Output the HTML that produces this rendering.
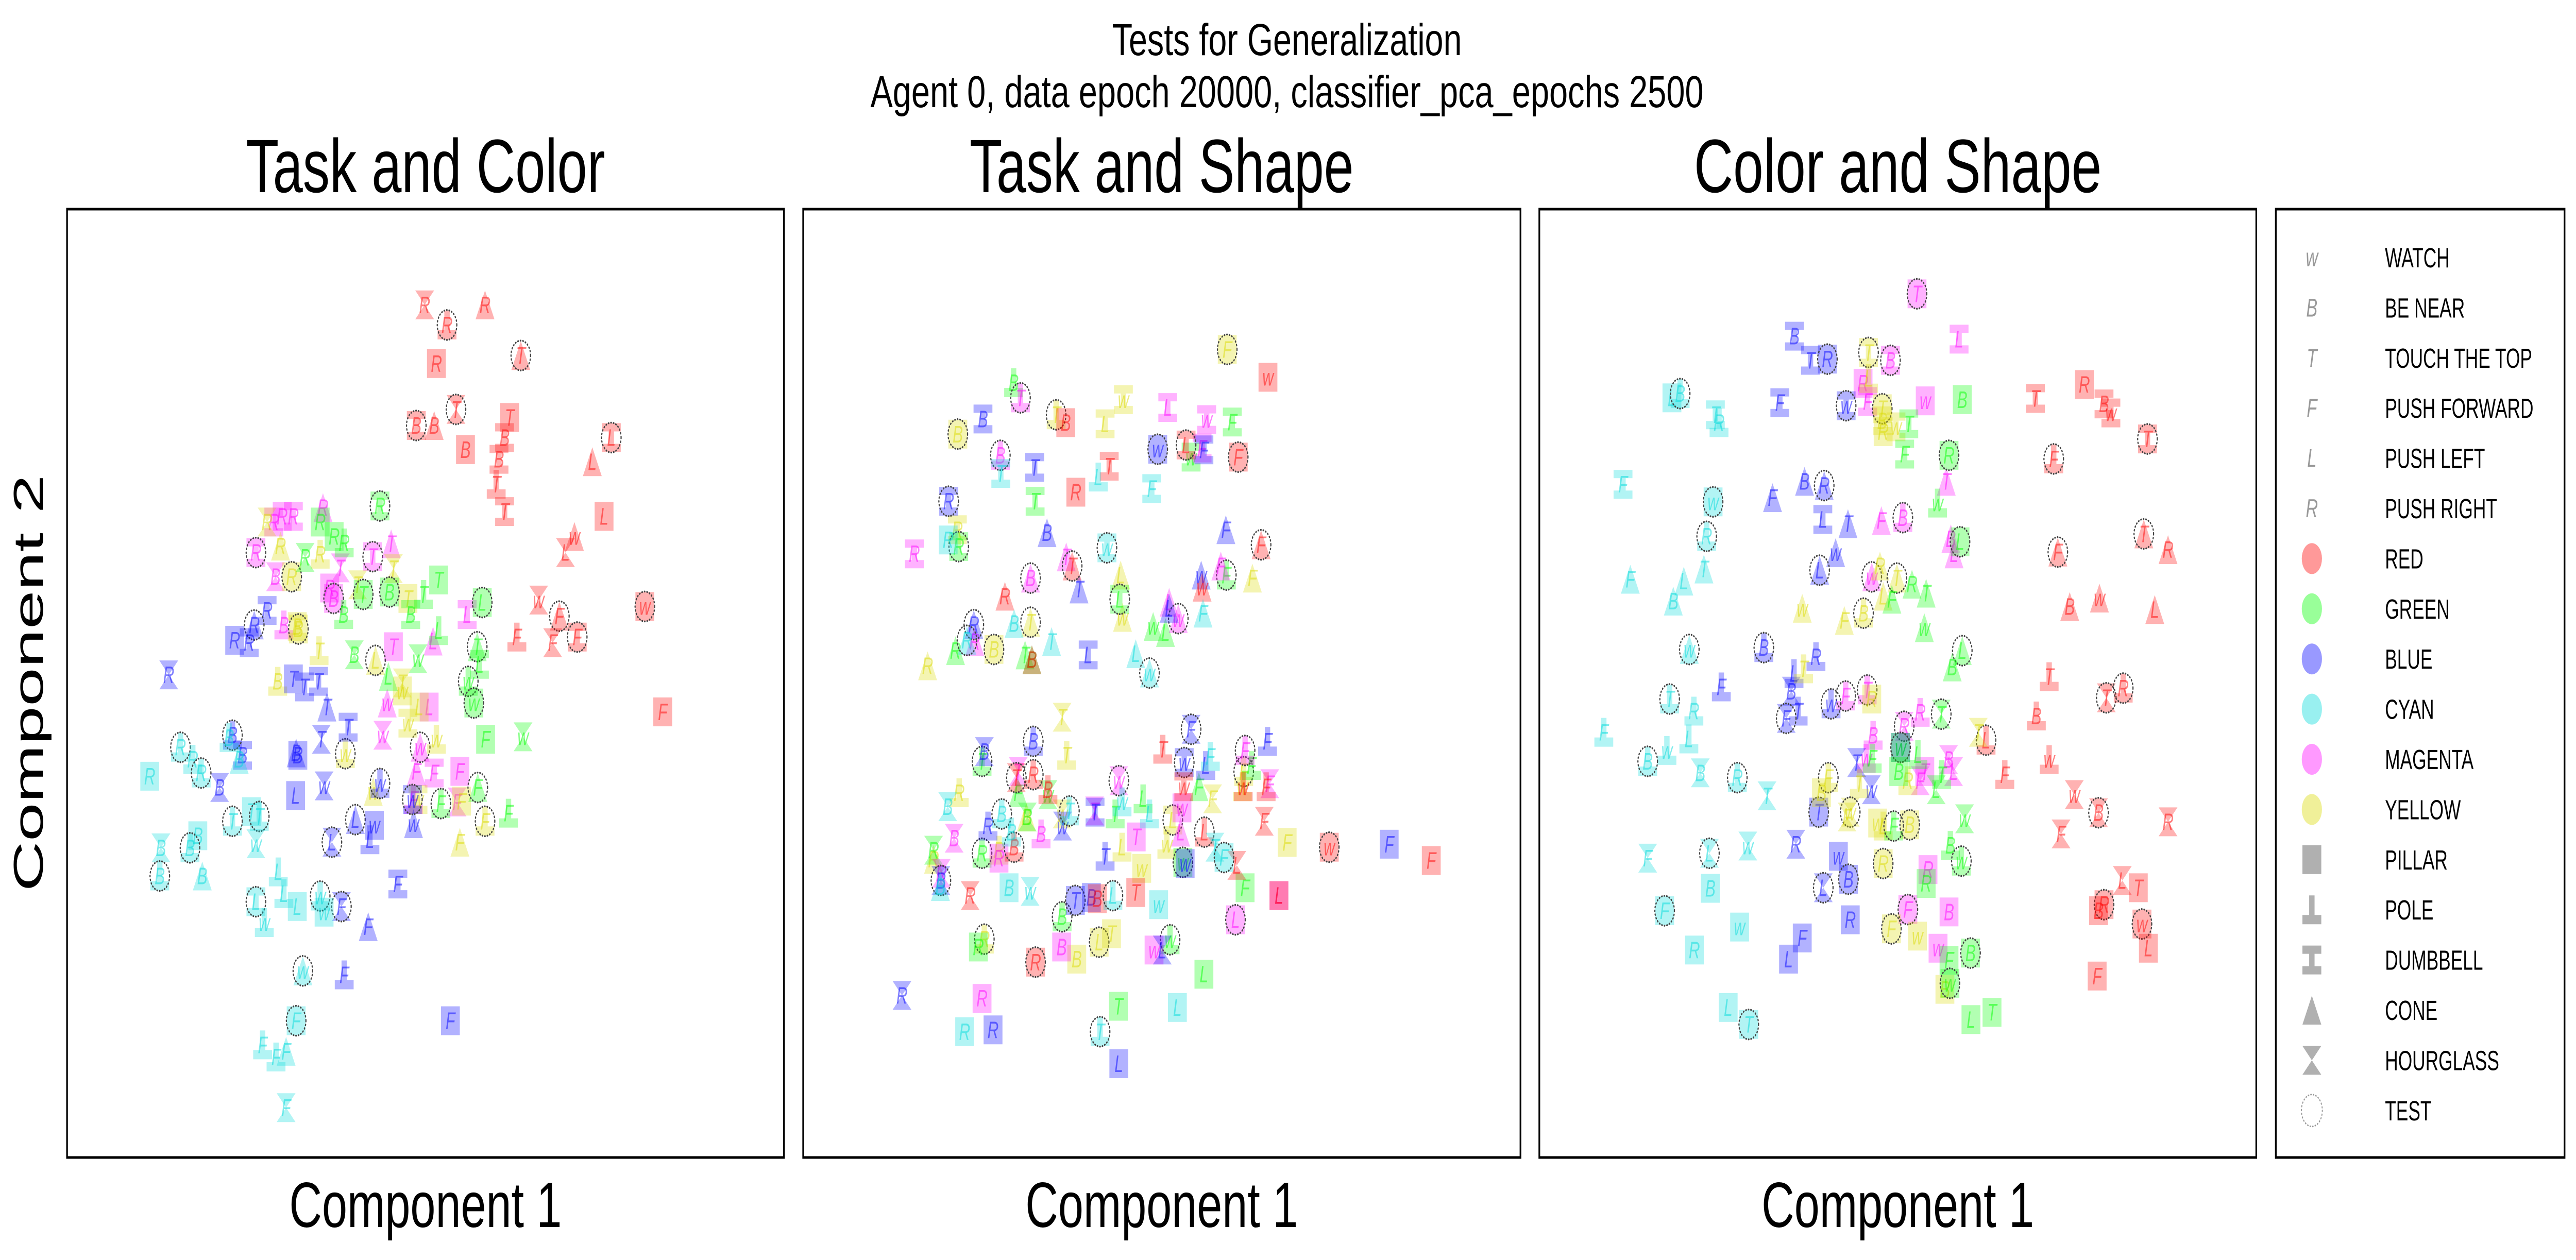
<!DOCTYPE html>
<html><head><meta charset="utf-8"><title>Tests for Generalization</title>
<style>
html,body{margin:0;padding:0;background:#fff;width:100%;height:100%;overflow:hidden;}
svg{display:block;width:100vw;height:100vh;}
text{font-family:"Liberation Sans","DejaVu Sans",sans-serif;}
</style></head>
<body>
<svg id="fig" viewBox="0 0 7646 2446" preserveAspectRatio="none" xmlns="http://www.w3.org/2000/svg">
<rect x="0" y="0" width="7646" height="2446" fill="#fff"/>
<text x="3820" y="107" font-size="87" text-anchor="middle" textLength="1038" lengthAdjust="spacingAndGlyphs">Tests for Generalization</text>
<text x="3820" y="208" font-size="87" text-anchor="middle" textLength="2473" lengthAdjust="spacingAndGlyphs">Agent 0, data epoch 20000, classifier_pca_epochs 2500</text>
<text x="1263" y="373" font-size="147" text-anchor="middle" textLength="1066" lengthAdjust="spacingAndGlyphs">Task and Color</text>
<text x="3448" y="373" font-size="147" text-anchor="middle" textLength="1140" lengthAdjust="spacingAndGlyphs">Task and Shape</text>
<text x="5633" y="373" font-size="147" text-anchor="middle" textLength="1210" lengthAdjust="spacingAndGlyphs">Color and Shape</text>
<text x="1263" y="2382" font-size="124" text-anchor="middle" textLength="809" lengthAdjust="spacingAndGlyphs">Component 1</text>
<text x="3448" y="2382" font-size="124" text-anchor="middle" textLength="809" lengthAdjust="spacingAndGlyphs">Component 1</text>
<text x="5633" y="2382" font-size="124" text-anchor="middle" textLength="809" lengthAdjust="spacingAndGlyphs">Component 1</text>
<text x="0" y="0" font-size="124" text-anchor="middle" textLength="809" lengthAdjust="spacingAndGlyphs" transform="translate(127,1326) rotate(-90)">Component 2</text>
<g id="panels"></g>
<g id="legend"></g>
</svg>
<script>
// ---------- data (in pixel-estimate data units) ----------
const p1RedX=[760,800,868,781,932,745,777,816,833,912,903,893,888,903,1094,1060,1081,1028,1012,964,1001,1033,989,925,1154,1186];
const p1RedY=[380,405,380,453,443,530,530,510,560,520,545,572,603,637,545,575,643,668,688,747,767,793,800,793,755,886];
const p1RedShape="H O C P C D C H P P D D O D D C P C H H C D H O P P";
const p1RedTask="R R R R T B B T B T B B T T L L L W L W F F F F W F";
const p1RedTest="0 1 0 0 1 1 0 1 0 0 0 0 0 0 1 0 0 0 0 0 1 1 0 0 1 0";
const p1MagX=[505,525,490,578,458,493,609,667,700,590,597,508,836,775,704,693,685,752,768,745,777,823,818,740];
const p1MagY=[643,643,650,632,688,718,707,693,677,732,745,778,765,798,805,875,915,930,880,960,962,960,998,995];
const p1MagShape="P D D C D H H D C P P O D C P C H C P C D P H O";
const p1MagTask="R R R R R B T T T R B B L L T W W W L F F F F F";
const p1MagTest="0 0 0 0 1 0 0 1 0 0 1 0 0 0 0 0 0 1 0 0 0 0 0 0";
const p1YelX=[478,502,522,573,640,532,534,571,497,672,704,730,720,730,781,750,618,668,748,826,868,823,720];
const p1YelY=[650,680,718,690,728,780,783,810,848,822,708,745,860,900,920,880,938,985,995,997,1022,1048,850];
const p1YelShape="H C P O H D P O O C H P P D O P O C D P O C H";
const p1YelTask="R R R R T B B T B L T T W W W L W W W F F F T";
const p1YelTest="0 0 1 0 0 0 1 0 0 1 0 0 0 0 0 0 1 0 0 0 1 0 0";
const p1GrnX=[680,573,598,616,546,650,697,785,758,735,615,634,785,863,854,858,838,848,695,869,936,855,789,910,748];
const p1GrnY=[630,650,668,676,694,740,737,722,740,765,765,815,785,750,805,827,848,875,842,920,917,980,1000,1012,820];
const p1GrnShape="D P P O H P P P O D O H O P C D O P C P H C O O H";
const p1GrnTask="R R R R R T B T T B B B L L T L W W L F W F F F W";
const p1GrnTest="1 0 0 0 0 1 1 0 0 0 0 0 0 1 1 0 1 1 0 0 0 1 1 0 0";
const p1BluX=[478,455,420,446,302,525,545,570,585,623,575,533,530,434,416,393,580,529,680,636,670,662,594,740,738,712,611,659,616,806];
const p1BluY=[760,778,797,800,840,845,855,848,880,905,920,940,937,940,915,980,978,990,975,1020,1027,1045,1048,1025,995,1100,1128,1153,1213,1270];
const p1BluShape="D C P D H P D D C D H P C D O H H P O C P O H C D D H C O P";
const p1BluTask="R R R R R T T T T T T B B B B B W L W L W L L W W F F F F F";
const p1BluTest="0 1 0 0 0 0 0 0 0 0 0 0 0 0 1 0 0 0 1 1 0 0 1 0 1 0 1 0 0 0";
const p1CyaX=[268,323,345,360,410,428,450,464,416,458,354,340,288,286,362,498,508,458,473,532,573,580,542,530,470,494,512,512];
const p1CyaY=[966,930,945,962,918,945,1010,1016,1022,1050,1040,1055,1055,1090,1090,1085,1112,1122,1148,1128,1115,1135,1208,1270,1300,1315,1308,1378];
const p1CyaShape="P O O O O C P O O H P O H O C O O D O P O P C P O O C H";
const p1CyaTask="R R R R B B T T T W B B B B B L L L W L W W W F F F F F";
const p1CyaTest="0 1 0 1 0 0 0 1 1 0 0 1 0 1 0 0 0 1 0 0 1 0 1 1 0 0 0 0";

const p2YelX=[927,700,660,553,338,337,982,694,698,497,417,272,566,576,341,566,488,428,697,740,795,808,895,1058,963,960,598,396,647,674,285];
const p2YelY=[232,315,355,340,372,530,610,605,675,683,728,755,840,903,965,1000,1005,1060,1055,1090,1050,1010,975,1047,930,955,1240,1207,1212,1198,1075];
const p2YelShape="P D D O P D C C C C P C H O O H C O O P O D H P O O P O P P C";
const p2YelTask="F W L T B R F L W T B R T T R W B R L W W L F F F W B R L T R";
const p2YelTest="1 0 0 1 1 0 0 0 0 1 1 0 0 0 0 0 0 0 0 0 0 1 0 0 1 0 0 1 1 0 0";
const p2GrnX=[460,938,848,507,340,925,692,765,792,333,485,500,391,470,535,490,285,391,682,743,865,980,566,802,830,966,383,876,689];
const p2GrnY=[287,352,410,483,558,605,645,690,700,730,737,745,913,965,968,1005,1060,1065,1000,975,955,920,1170,1208,1080,1122,1220,1265,1318];
const p2GrnShape="O D D D D O D C C C C C O C H H H O O O C O O O P P P P P";
const p2GrnTask="B F W T R F L W L R T B T F W B R R T L F F B W W F R L T";
const p2GrnTest="0 0 0 0 1 1 1 0 0 0 0 0 1 0 0 0 0 1 0 0 0 0 1 1 1 0 0 0 0";
const p2MagX=[475,797,882,872,431,243,575,497,913,800,820,375,470,690,966,1020,637,330,520,428,728,825,302,945,1040,565,767,391,828];
const p2MagY=[312,328,348,395,407,570,575,610,590,650,677,715,930,945,895,950,995,1040,1033,1073,1038,1030,1098,1175,1135,1220,1225,1305,990];
const p2MagShape="O D D D O D C C C C C C H H O H H H O P P C H P P P P P P";
const p2MagTask="T L W F B R T B F L W R T W F F T B B R T L R L L B W R W";
const p2MagTest="1 0 0 0 1 0 0 1 0 0 1 0 0 1 1 0 0 0 0 0 0 0 0 1 0 0 0 0 0";
const p2BluX=[393,506,318,533,924,603,870,373,623,775,876,800,848,1015,396,503,833,880,404,567,638,660,835,595,630,785,216,415,690,1281,301];
const p2BluY=[347,427,483,535,530,628,605,687,737,397,398,660,860,880,897,880,915,920,1020,1020,997,1070,1082,1143,1138,1225,1300,1357,1413,1050,1110];
const p2BluShape="D D D C C C C C D P D C H O H O D O O H D O P P P H H P P P H";
const p2BluTask="B T R B F T W R L W F L F F B B W L R W T T W T B L R R L F B";
const p2BluTest="0 0 1 0 0 0 0 1 0 1 0 0 1 0 0 1 1 0 0 0 0 0 0 1 0 0 0 0 0 0 1";
const p2RedX=[1016,574,837,951,669,596,1001,588,872,441,500,786,466,503,535,832,962,1008,1012,461,877,948,1150,1373,365,727,643,508,1040];
const p2RedY=[278,353,390,410,425,468,555,590,625,640,745,893,940,935,960,955,955,1012,955,1055,1030,1085,1055,1077,1135,1130,1140,1245,1135];
const p2RedShape="P P D P D P C C C C C O H O O D O H O O O H P P H P P P P";
const p2RedTask="W B L F T R F T W R B T T R B W W F F B L L W F R T B R L";
const p2RedTest="0 0 1 1 0 0 1 1 0 0 0 0 1 1 0 0 0 0 0 1 1 0 1 0 0 0 0 1 0";
const p2CyaX=[432,645,762,317,664,461,543,358,727,757,874,890,316,434,582,697,757,900,920,450,496,677,777,818,353,649,300,455];
const p2CyaY=[437,443,462,547,560,685,715,713,735,767,668,905,988,1000,995,980,1000,1055,1072,1122,1128,1135,1150,1320,1360,1360,1120,1030];
const p2CyaShape="D O D P D C C C C C C O H O O O O H P P H O P P P O C O";
const p2CyaTask="T L F R W B T R L W F F B B T W L T F B W L W L R T B B";
const p2CyaTest="0 0 0 0 1 0 0 1 0 1 0 0 0 1 1 0 0 0 1 0 0 1 0 0 0 1 0 0";

const p3RedX=[1085,1192,1235,1250,1330,1125,1322,1134,1375,1160,1225,1346,1115,1240,1277,1087,977,1115,1018,1170,1223,1375,1141,1275,1310,1235,1223,1318,1332,1220];
const p3RedY=[313,290,322,337,380,413,537,567,563,657,643,662,773,808,792,838,878,910,935,968,998,1013,1033,1110,1122,1150,1160,1182,1222,1268];
const p3RedShape="D P D D D O C C C C C C O H O O O O O H H H H H P P P P P P";
const p3RedTask="T R B W T F T F R B W L T T R B L W F W B R F L T R B W L F";
const p3RedTest="0 0 0 0 1 1 1 1 0 0 0 0 0 1 1 0 1 0 0 0 1 0 0 0 0 1 0 1 0 0";
const p3MagX=[826,918,768,708,718,844,890,748,795,900,907,727,670,717,730,798,833,833,895,906,843,850,806,896,872,715];
const p3MagY=[140,215,250,288,318,317,450,515,510,545,570,608,805,795,870,855,832,945,910,930,930,1092,1158,1162,1222,908];
const p3MagShape="P D D P D P C C O C C C O O O H O H H H P P P P P O";
const p3MagTask="T L B R F W T F B B L W F T B R R F B L T R F B W W";
const p3MagTest="1 0 1 0 0 0 0 0 1 0 0 1 1 1 0 1 0 0 0 0 0 0 1 0 0 0";
const p3BluX=[558,593,630,526,671,580,623,510,620,675,648,613,491,605,398,557,551,566,540,638,694,726,611,561,654,676,621,680,575,545,790];
const p3BluY=[210,250,248,320,325,450,457,477,513,520,568,597,725,740,790,768,797,830,842,818,915,960,997,1050,1070,1108,1122,1175,1205,1240,890];
const p3BluShape="D D P D D C C C D C C C O O O O H O H O H H P H P P H P P P P";
const p3BluTask="B T R F W B R F L T W L B R F L B T F W T W T R W B L R F L W";
const p3BluTest="0 0 1 0 1 0 1 0 0 0 0 1 1 0 0 0 0 0 1 1 0 0 1 0 0 1 1 0 0 0 1";
const p3CyaX=[290,308,385,393,183,380,366,360,199,316,293,328,285,338,141,327,279,237,352,433,498,237,372,456,374,274,438,339,413,458];
const p3CyaY=[312,305,340,353,455,484,541,595,612,615,648,728,810,830,865,876,895,913,932,940,970,1073,1065,1053,1123,1160,1187,1225,1320,1348];
const p3CyaShape="P O D O D P O C C C C C O O O O O O H O H H H H P P P P P P";
const p3CyaTask="L B T R F W R T F L B W T R F L W B B R T F L W B F W R L T";
const p3CyaTest="0 1 0 0 0 1 1 0 0 0 0 1 1 0 0 0 0 1 0 1 0 0 1 0 0 1 0 0 0 1";
const p3YelX=[720,720,750,750,780,752,745,782,752,575,667,709,578,727,960,632,700,617,680,673,740,752,810,806,752,770,827,887];
const p3YelY=[237,280,330,350,360,368,590,610,640,660,680,668,760,810,865,940,950,965,997,1005,1015,1020,1018,945,1082,1190,1202,1290];
const p3YelShape="D O P D D P C C C C C O O P H O O P H H P O P O P P P P";
const p3YelTask="T L T B W R R T L W F B T R T F T B W F W L B R R F W B";
const p3YelTest="1 0 1 0 0 0 0 1 0 0 0 1 0 0 0 1 0 0 1 0 0 0 1 0 1 1 0 0";
const p3GrnX=[925,808,799,896,871,920,771,815,846,842,925,903,879,790,828,728,786,880,868,930,775,899,923,846,943,896,898,944,990];
const p3GrnY=[315,355,405,407,486,550,645,620,635,692,730,757,835,890,902,908,930,935,960,1008,1020,1052,1078,1115,1230,1242,1280,1340,1328];
const p3GrnShape="P D D P O P C C C C C C H P O O P O H H O O O P P P P P P";
const p3GrnTask="B T F R W L F R T W L B T W L F B T L W F B W R B F W L T";
const p3GrnTest="0 0 0 1 0 1 0 0 0 0 1 0 1 1 0 0 0 0 0 0 1 0 1 0 1 0 1 0 0";

const legendTasks=["WATCH","BE NEAR","TOUCH THE TOP","PUSH FORWARD","PUSH LEFT","PUSH RIGHT"];
const legendTaskGlyphs=["w","B","T","F","L","R"];
const legendColors=["RED","GREEN","BLUE","CYAN","MAGENTA","YELLOW"];
const legendShapes=["PILLAR","POLE","DUMBBELL","CONE","HOURGLASS"];

// ---------- rendering ----------
const NS="http://www.w3.org/2000/svg";
const COL={r:"#ff0000",g:"#00ff00",b:"#0000ff",c:"#00d9d9",m:"#ff00ff",y:"#d9d900"};
const PANELS=[
  {left:199,top:406,w:2128,h:1841,dx:[120,1403],dy:[261,1440],name:"task-and-color"},
  {left:2384,top:406,w:2129,h:1841,dx:[0,1568],dy:[0,1568],name:"task-and-shape"},
  {left:4569,top:406,w:2128,h:1841,dx:[0,1568],dy:[0,1568],name:"color-and-shape"}
];
function sx(p,v){return p.left+(v-p.dx[0])/(p.dx[1]-p.dx[0])*p.w;}
function sy(p,v){return p.top+(v-p.dy[0])/(p.dy[1]-p.dy[0])*p.h;}
function mk(tag,attrs,parent){const e=document.createElementNS(NS,tag);for(const k in attrs)e.setAttribute(k,attrs[k]);if(parent)parent.appendChild(e);return e;}
const H=28;
function shapeEl(code,cx,cy,fill,op,g){
  let e;
  if(code==="P"){e=mk("rect",{x:cx-H,y:cy-H,width:2*H,height:2*H},g);}
  else if(code==="O"){e=mk("path",{d:`M${cx-8},${cy-H}h16v${H+10}h${H-8}v${H-10}h${-2*H}v${-(H-10)}h${H-8}z`},g);}
  else if(code==="D"){e=mk("path",{d:`M${cx-H},${cy-H}h${2*H}v16h${-(H-8)}v${2*H-32}h${H-8}v16h${-2*H}v-16h${H-8}v${-(2*H-32)}h${-(H-8)}z`},g);}
  else if(code==="C"){e=mk("polygon",{points:`${cx},${cy-H} ${cx+H},${cy+H} ${cx-H},${cy+H}`},g);}
  else {e=mk("polygon",{points:`${cx-H},${cy-H} ${cx+H},${cy-H} ${cx},${cy} ${cx+H},${cy+H} ${cx-H},${cy+H} ${cx},${cy}`},g);}
  e.setAttribute("fill",fill);e.setAttribute("fill-opacity",op);
  return e;
}
const SHAPE_NAME={P:"pillar",O:"pole",D:"dumbbell",C:"cone",H:"hourglass"};
function drawGroup(p,g,xs,ys,shapes,tasks,tests,colorKey){
  const S=shapes.split(/\s+/),T=tasks.split(/\s+/),Q=tests.split(/\s+/);
  const n=Math.min(xs.length,ys.length,S.length,T.length,Q.length);
  for(let i=0;i<n;i++){
    const cx=sx(p,xs[i]),cy=sy(p,ys[i]);
    const pg=mk("g",{},g);
    
    
    shapeEl(S[i],cx,cy,COL[colorKey],0.3,pg);
    const t=mk("text",{x:cx,y:cy+16,"font-size":46,"font-style":"italic","text-anchor":"middle",fill:COL[colorKey],"fill-opacity":0.5},pg);
    t.textContent=T[i]==="W"?"w":T[i];
    if(Q[i]==="1"){mk("circle",{cx:cx,cy:cy,r:29,fill:"none",stroke:"#444","stroke-width":3.5,"stroke-dasharray":"1.5 6","stroke-linecap":"round"},pg);}
  }
}
const panelsG=document.getElementById("panels");
const groups=[
 [[p1RedX,p1RedY,p1RedShape,p1RedTask,p1RedTest,"r"],[p1MagX,p1MagY,p1MagShape,p1MagTask,p1MagTest,"m"],[p1YelX,p1YelY,p1YelShape,p1YelTask,p1YelTest,"y"],[p1GrnX,p1GrnY,p1GrnShape,p1GrnTask,p1GrnTest,"g"],[p1BluX,p1BluY,p1BluShape,p1BluTask,p1BluTest,"b"],[p1CyaX,p1CyaY,p1CyaShape,p1CyaTask,p1CyaTest,"c"]],
 [[p2YelX,p2YelY,p2YelShape,p2YelTask,p2YelTest,"y"],[p2GrnX,p2GrnY,p2GrnShape,p2GrnTask,p2GrnTest,"g"],[p2MagX,p2MagY,p2MagShape,p2MagTask,p2MagTest,"m"],[p2BluX,p2BluY,p2BluShape,p2BluTask,p2BluTest,"b"],[p2RedX,p2RedY,p2RedShape,p2RedTask,p2RedTest,"r"],[p2CyaX,p2CyaY,p2CyaShape,p2CyaTask,p2CyaTest,"c"]],
 [[p3RedX,p3RedY,p3RedShape,p3RedTask,p3RedTest,"r"],[p3MagX,p3MagY,p3MagShape,p3MagTask,p3MagTest,"m"],[p3BluX,p3BluY,p3BluShape,p3BluTask,p3BluTest,"b"],[p3CyaX,p3CyaY,p3CyaShape,p3CyaTask,p3CyaTest,"c"],[p3YelX,p3YelY,p3YelShape,p3YelTask,p3YelTest,"y"],[p3GrnX,p3GrnY,p3GrnShape,p3GrnTask,p3GrnTest,"g"]]
];
PANELS.forEach((p,pi)=>{
  const g=mk("g",{},panelsG);
  
  
  const frame=mk("rect",{x:p.left,y:p.top,width:p.w,height:p.h,fill:"#fff",stroke:"#000","stroke-width":5},g);
  
  
  groups[pi].forEach(a=>drawGroup(p,g,a[0],a[1],a[2],a[3],a[4],a[5]));
});

// legend
const lg=document.getElementById("legend");
mk("rect",{x:6755,y:406,width:857,height:1841,fill:"#fff",stroke:"#000","stroke-width":5},lg);
const MX=6862,TX=7079,Y0=500,DY=97.4;
let row=0;
function legendText(label,y){
  const t=mk("text",{x:TX,y:y+19,"font-size":54,fill:"#000"},lg);
  t.textContent=label;
  
  
}
legendTasks.forEach((lab,i)=>{
  const y=Y0+row*DY;
  const t=mk("text",{x:MX,y:y+17,"font-size":50,"font-style":"italic","text-anchor":"middle",fill:"#999"},lg);
  t.textContent=legendTaskGlyphs[i];
  
  
  legendText(lab,y);row++;
});
const LC=["#ff9999","#99ff99","#9999ff","#99f0f0","#ff99ff","#f0f099"];
legendColors.forEach((lab,i)=>{
  const y=Y0+row*DY;
  const c=mk("circle",{cx:MX,cy:y,r:30,fill:LC[i]},lg);
  
  
  legendText(lab,y);row++;
});
const SC=["P","O","D","C","H"];
legendShapes.forEach((lab,i)=>{
  const y=Y0+row*DY;
  const e=shapeEl(SC[i],MX,y,"#b0b0b0",1,lg);
  
  
  legendText(lab,y);row++;
});
{
  const y=Y0+row*DY;
  const c=mk("circle",{cx:MX,cy:y,r:31,fill:"none",stroke:"#999","stroke-width":3,"stroke-dasharray":"1.5 6","stroke-linecap":"round"},lg);
  
  
  legendText("TEST",y);
}
</script>
</body></html>
